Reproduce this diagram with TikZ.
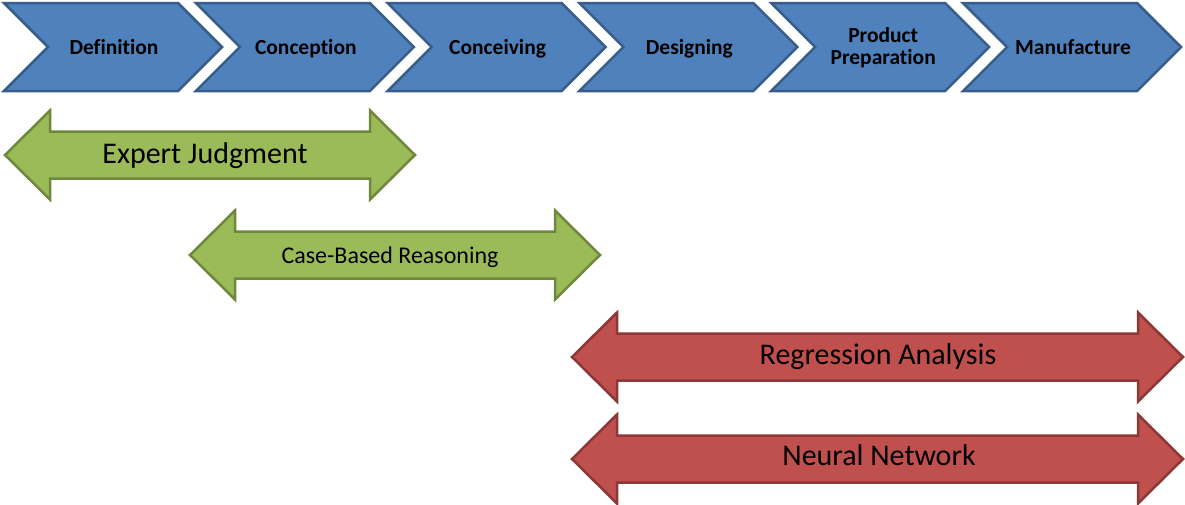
\documentclass[tikz,border=0pt]{standalone}
\usepackage{fontspec}
\setmainfont{Carlito}[Ligatures=NoCommon]
\definecolor{bluefill}{HTML}{4F81BD}
\definecolor{blueline}{HTML}{385D8A}
\definecolor{greenfill}{HTML}{9BBB59}
\definecolor{greenline}{HTML}{6E883C}
\definecolor{redfill}{HTML}{C0504D}
\definecolor{redline}{HTML}{8C3836}
\tikzset{
  chev/.style={fill=bluefill,draw=blueline,line width=2.5pt,line join=miter},
  chevtext/.style={font=\bfseries\fontsize{21.5}{22}\selectfont,text=black,align=center,anchor=base,inner sep=0pt},
  greenarr/.style={fill=greenfill,draw=greenline,line width=2.5pt,line join=miter},
  redarr/.style={fill=redfill,draw=redline,line width=2.5pt,line join=miter},
  bigtext/.style={font=\fontsize{30}{34}\selectfont,text=black,anchor=base,inner sep=0pt},
  midtext/.style={font=\fontsize{24}{28}\selectfont,text=black,anchor=base,inner sep=0pt},
}
\newcommand\DblArrow[4]{%
  \draw[#4] (#1,#3) -- ++(45,-44.5) -- ++(0,21) -- (#2-45,#3-23.5) -- ++(0,-21)
    -- (#2,#3) -- (#2-45,#3+44.5) -- ++(0,-21) -- (#1+45,#3+23.5) -- ++(0,21) -- cycle;}
\begin{document}
\begin{tikzpicture}[x=1pt,y=-1pt]
\useasboundingbox (0,0) rectangle (1185,504);
\fill[white] (0,0) rectangle (1185,504);
% chevrons
\foreach \i/\name/\txt in {0/c1/Definition,1/c2/Conception,2/c3/Conceiving,3/c4/Designing,5/c6/Manufacture}{
  \pgfmathsetmacro{\xo}{4+191.8*\i}
  \draw[chev] (\xo,3) -- (\xo+174,3) -- (\xo+218,47) -- (\xo+174,91) -- (\xo,91) -- (\xo+44,47) -- cycle;
  \node[chevtext] (\name) at (\xo+110,54) {\txt};
}
\pgfmathsetmacro{\xo}{4+191.8*4}
\draw[chev] (\xo,3) -- (\xo+174,3) -- (\xo+218,47) -- (\xo+174,91) -- (\xo,91) -- (\xo+44,47) -- cycle;
\node[chevtext,anchor=base] (c5) at (\xo+112,42) {Product};
\node[chevtext,anchor=base] (c5b) at (\xo+112,64) {Preparation};
% double arrows
\DblArrow{5}{415}{155}{greenarr}
\node[bigtext] (ej) at (205,163) {Expert Judgment};
\DblArrow{190}{600}{255}{greenarr}
\node[midtext] (cbr) at (390,263) {Case-Based Reasoning};
\DblArrow{572}{1183}{357}{redarr}
\node[bigtext] (ra) at (878,364) {Regression Analysis};
\DblArrow{572}{1183}{459}{redarr}
\node[bigtext] (nn) at (879,465) {Neural Network};
\end{tikzpicture}
\end{document}
